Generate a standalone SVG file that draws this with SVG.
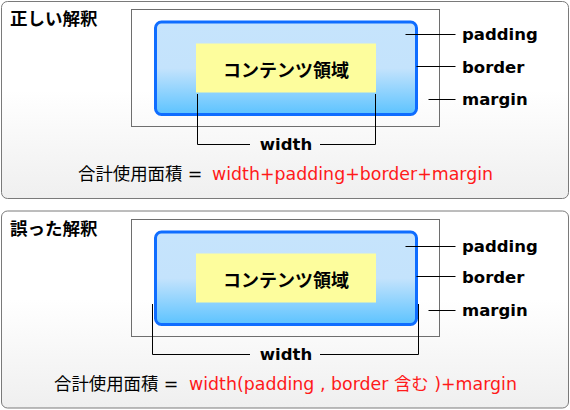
<svg xmlns="http://www.w3.org/2000/svg" width="570" height="410" viewBox="0 0 570 410">
<defs>
<linearGradient id="panelG" x1="0" y1="0" x2="0" y2="1">
<stop offset="0" stop-color="#ffffff"/>
<stop offset="0.45" stop-color="#ffffff"/>
<stop offset="1" stop-color="#efefef"/>
</linearGradient>
<linearGradient id="blueG" x1="0" y1="0" x2="0" y2="1">
<stop offset="0" stop-color="#c6e4fc"/>
<stop offset="0.5" stop-color="#c4e3fc"/>
<stop offset="1" stop-color="#5cc3ff"/>
</linearGradient>
<style>
.panel{fill:url(#panelG);stroke:#7a7a7a;stroke-width:1}
.margin{fill:none;stroke:#6e6e6e;stroke-width:1}
.border{fill:url(#blueG);stroke:#0f6dff;stroke-width:3}
.content{fill:#fdfd9d}
.ln{fill:none;stroke:#000;stroke-width:1}
.t{font-family:"DejaVu Sans","Noto Sans CJK JP",sans-serif;fill:#000}
.title{font-size:17.5px;font-weight:bold;font-family:"Noto Sans CJK JP",sans-serif}
.lab{font-size:16.5px;font-weight:bold}
.ct{font-size:18px;font-weight:bold;font-family:"Noto Sans CJK JP",sans-serif}
.f{font-size:17.4px}
.red{fill:#ff1a1a}
</style>
</defs>

<g id="panel1">
<rect class="panel" x="1.5" y="1.5" width="567" height="197" rx="6"/>
<text class="t title" x="10" y="25">正しい解釈</text>
</g>
<g id="margin1"><rect class="margin" x="131.5" y="9.5" width="308" height="117"/></g>
<g id="border1"><rect class="border" x="155.5" y="22" width="261" height="92.5" rx="6"/></g>
<g id="content1">
<rect class="content" x="196" y="43.5" width="180" height="49"/>
<text class="t ct" x="286" y="77" text-anchor="middle">コンテンツ領域</text>
</g>

<g id="panel2">
<rect class="panel" x="1.5" y="211" width="567" height="197" rx="6"/>
<text class="t title" x="10" y="235">誤った解釈</text>
</g>
<g id="margin2"><rect class="margin" x="131.5" y="219.5" width="308" height="117"/></g>
<g id="border2"><rect class="border" x="155.5" y="232" width="261" height="92.5" rx="6"/></g>
<g id="content2">
<rect class="content" x="196" y="253.5" width="180" height="49"/>
<text class="t ct" x="286" y="287" text-anchor="middle">コンテンツ領域</text>
</g>

<g id="connectors">
<path class="ln" d="M405.5 34.5H455.5M416.5 66.5H455.5M428.5 99.5H455.5"/>
<path class="ln" d="M197.5 94V144.5H250M320 144.5H375.5V94"/>
<path class="ln" d="M405.5 246.5H455.5M416.5 276.5H455.5M428.5 310.5H455.5"/>
<path class="ln" d="M152.5 304V354.5H250M320 354.5H418.5V304"/>
</g>

<g id="labels1">
<text class="t lab" x="462" y="40">padding</text>
<text class="t lab" x="462" y="73">border</text>
<text class="t lab" x="462" y="105">margin</text>
<text class="t lab" x="286" y="150" text-anchor="middle">width</text>
<text class="t f" x="78" y="180">合計使用面積 =<tspan class="red" x="212">width+padding+border+margin</tspan></text>
</g>
<g id="labels2">
<text class="t lab" x="462" y="252">padding</text>
<text class="t lab" x="462" y="283">border</text>
<text class="t lab" x="462" y="316">margin</text>
<text class="t lab" x="286" y="360" text-anchor="middle">width</text>
<text class="t f" x="54" y="390">合計使用面積 =<tspan class="red" x="189">width(padding , border 含む )+margin</tspan></text>
</g>
</svg>
